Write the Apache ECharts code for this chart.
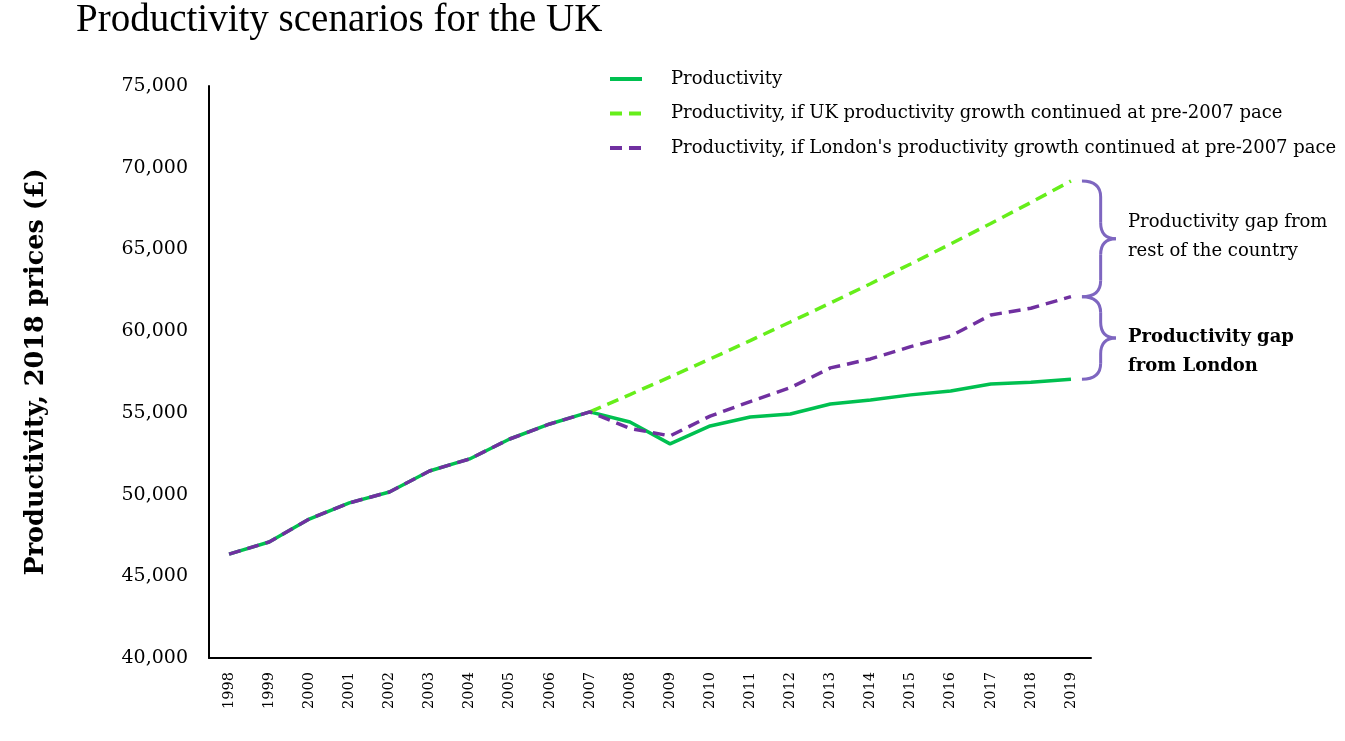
<!DOCTYPE html>
<html><head><meta charset="utf-8">
<script src="https://cdn.jsdelivr.net/npm/echarts@6/dist/echarts.min.js"></script>
<style>html,body{margin:0;padding:0;background:#fff}#c{width:1345px;height:741px}</style>
</head><body><div id="c"></div>
<script>
const years = ['1998','1999','2000','2001','2002','2003','2004','2005','2006','2007','2008','2009','2010','2011','2012','2013','2014','2015','2016','2017','2018','2019'];
const productivity = [46360,47100,48500,49490,50160,51440,52180,53400,54320,55060,54440,53100,54200,54750,54930,55540,55790,56100,56340,56770,56870,57050];
const ukScenario = ['-','-','-','-','-','-','-','-','-',55060,56120,57200,58300,59420,60560,61720,62900,64110,65340,66590,67870,69190];
const londonScenario = [46360,47100,48500,49490,50160,51440,52180,53400,54320,55060,54050,53590,54800,55690,56540,57750,58300,59050,59700,60990,61400,62110];
const seriesNames = ['Productivity','Productivity, if UK productivity growth continued at pre-2007 pace',"Productivity, if London's productivity growth continued at pre-2007 pace"];
const gapLabels = ['Productivity gap from\nrest of the country','Productivity gap\nfrom London'];
const yTicks = {min:40000,max:75000,interval:5000};

const TFONT = 'Liberation Serif';
const FONT = 'DejaVu Serif';
const chart = echarts.init(document.getElementById('c'));
const option = {
  animation:false,
  backgroundColor:'#fff',
  title:{text:'Productivity scenarios for the UK',left:71,top:-4,textStyle:{fontFamily:TFONT,fontSize:39,fontWeight:'normal',color:'#000'}},
  legend:{orient:'vertical',left:603,top:65,itemWidth:32,itemHeight:14,itemGap:16.5,
    itemStyle:{opacity:0},
    lineStyle:{width:4},
    textStyle:{fontFamily:FONT,fontSize:18,color:'#000',padding:[0,0,0,24]},
    data:seriesNames},
  grid:{left:209,right:254,top:86,bottom:83,containLabel:false},
  xAxis:{type:'category',data:years,boundaryGap:true,
    axisLine:{lineStyle:{color:'#000',width:2}},axisTick:{show:false},
    axisLabel:{rotate:90,fontFamily:FONT,fontSize:14.5,color:'#000',margin:14,interval:0}},
  yAxis:{type:'value',min:yTicks.min,max:yTicks.max,interval:yTicks.interval,
    name:'Productivity, 2018 prices (£)',nameLocation:'middle',nameGap:160,
    nameTextStyle:{fontFamily:FONT,fontSize:25.5,fontWeight:'bold',color:'#000'},
    axisLine:{show:true,lineStyle:{color:'#000',width:2}},axisTick:{show:false},splitLine:{show:false},
    axisLabel:{fontFamily:FONT,fontSize:19,color:'#000',margin:21,
      formatter:v=>v.toLocaleString('en-US')}},
  series:[
    {name:seriesNames[0],type:'line',data:productivity,symbol:'none',lineStyle:{color:'#00C050',width:3.5},itemStyle:{color:'#00C050'}},
    {name:seriesNames[1],type:'line',data:ukScenario,symbol:'none',lineStyle:{color:'#66EE1A',width:3.5,type:[12,7]},itemStyle:{color:'#66EE1A'}},
    {name:seriesNames[2],type:'line',data:londonScenario,symbol:'none',lineStyle:{color:'#7030A0',width:3.5,type:[12,7]},itemStyle:{color:'#7030A0'}}
  ]
};
chart.setOption(option);

const BRACE = {stroke:'#7E66C0',lineWidth:3,fill:null};
function brace(x0,y1,y2,w){
  const a=x0,b=x0+w*0.55,c=x0+w,ym=(y1+y2)/2,r=Math.min(16,(y2-y1)/5);
  const q=(x1,y1_,cx,cy,x2,y2_)=>({type:'bezierCurve',shape:{x1:x1,y1:y1_,cpx1:cx,cpy1:cy,x2:x2,y2:y2_},style:BRACE});
  const l=(x1,y1_,x2,y2_)=>({type:'line',shape:{x1:x1,y1:y1_,x2:x2,y2:y2_},style:BRACE});
  return [
    q(a,y1,b,y1,b,y1+r), l(b,y1+r,b,ym-r), q(b,ym-r,b,ym,c,ym),
    q(c,ym,b,ym,b,ym+r), l(b,ym+r,b,y2-r), q(b,y2-r,b,y2,a,y2)
  ];
}
const last = years.length-1;
const px = v => chart.convertToPixel({gridIndex:0},[last,v]);
const pUK = px(ukScenario[last]), pL = px(londonScenario[last]), pP = px(productivity[last]);
const bx = pUK[0]+11, bw = 34;
chart.setOption({graphic:[
  ...brace(bx,pUK[1],pL[1],bw),
  ...brace(bx,pL[1],pP[1],bw),
  {type:'text',left:bx+bw+12,top:(pUK[1]+pL[1])/2-31,style:{text:gapLabels[0],font:`18px "${FONT}"`,lineHeight:29,fill:'#000'}},
  {type:'text',left:bx+bw+12,top:(pL[1]+pP[1])/2-15,style:{text:gapLabels[1],font:`bold 18px "${FONT}"`,lineHeight:29,fill:'#000'}}
]});
</script></body></html>
